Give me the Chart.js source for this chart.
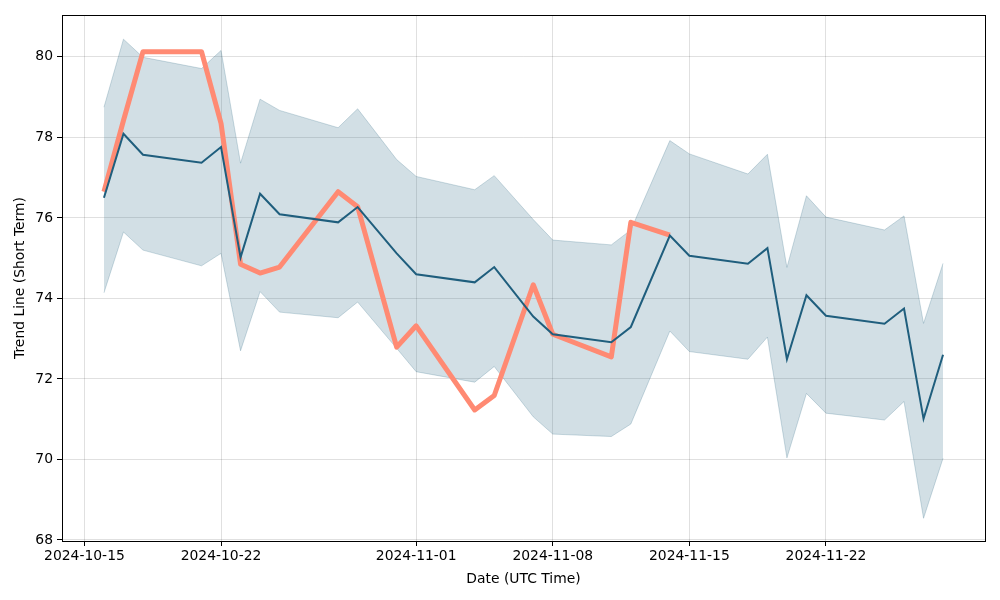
<!DOCTYPE html>
<html>
<head>
<meta charset="utf-8">
<script src="https://cdn.jsdelivr.net/npm/chart.js@4.4.1/dist/chart.umd.min.js"></script>
<style>
  html, body { margin: 0; padding: 0; background: #fff; }
  #wrap { width: 1000px; height: 600px; }
</style>
</head>
<body>
<div id="wrap"><canvas id="chart" width="1000" height="600"></canvas></div>
<script>
// dates (UTC) of the points
const dates = ['2024-10-16','2024-10-17','2024-10-18','2024-10-21','2024-10-22','2024-10-23','2024-10-24','2024-10-25','2024-10-28','2024-10-29','2024-10-31','2024-11-01','2024-11-04','2024-11-05','2024-11-07','2024-11-08','2024-11-11','2024-11-12','2024-11-14','2024-11-15','2024-11-18','2024-11-19','2024-11-20','2024-11-21','2024-11-22','2024-11-25','2024-11-26','2024-11-27','2024-11-28'];
// short term trend line
const trend = [76.50,78.09,77.57,77.37,77.76,75.02,76.60,76.09,75.89,76.27,75.12,74.60,74.40,74.78,73.55,73.11,72.91,73.29,75.56,75.06,74.86,75.25,72.49,74.08,73.57,73.37,73.75,71.01,72.60];
// band round the trend
const upper = [78.75,80.44,79.99,79.71,80.16,77.36,78.95,78.67,78.24,78.71,77.45,77.03,76.70,77.05,75.96,75.45,75.33,75.70,77.92,77.59,77.09,77.58,74.77,76.55,76.02,75.70,76.05,73.38,74.87];
const lower = [74.14,75.65,75.20,74.81,75.12,72.70,74.17,73.66,73.52,73.91,72.76,72.18,71.92,72.31,71.06,70.63,70.57,70.88,73.19,72.68,72.49,73.04,70.04,71.64,71.15,70.98,71.44,68.54,70.03];
// actual values (orange), stop after 11-14
const actual = [76.65,78.42,80.13,80.13,78.35,74.85,74.63,74.78,76.65,76.28,72.79,73.32,71.23,71.59,74.34,73.11,72.55,75.89,75.57,null,null,null,null,null,null,null,null,null,null];

const xTicks = ['2024-10-15','2024-10-22','2024-11-01','2024-11-08','2024-11-15','2024-11-22'];
const yTicks = [68,70,72,74,76,78,80];
const xMin = '2024-10-13T20:24:00Z';
const xMax = '2024-11-30T03:36:00Z';

const toMs = function(d) {
  return d.length > 10 ? Date.parse(d) : Date.parse(d + 'T00:00:00Z');
};
const pts = function(vals) {
  return dates.map((d, i) => ({x: toMs(d), y: vals[i]}));
};
const fmt = function(ms) {
  const d = new Date(ms);
  const p = n => n < 10 ? '0' + n : '' + n;
  return d.getUTCFullYear() + '-' + p(d.getUTCMonth() + 1) + '-' + p(d.getUTCDate());
};

const frame = {
  id: 'frame',
  afterDraw(chart) {
    const a = chart.chartArea, c = chart.ctx;
    c.save();
    c.strokeStyle = '#000';
    c.lineWidth = 1;
    c.strokeRect(Math.round(a.left) + 0.5, Math.round(a.top) + 0.5, Math.round(a.right - a.left), Math.round(a.bottom - a.top));
    c.restore();
  }
};

const font = {family: 'DejaVu Sans', size: 13.9};
const blue = 'rgb(31,94,125)';

new Chart(document.getElementById('chart').getContext('2d'), {
  type: 'line',
  data: {
    datasets: [
      {label: 'trend', data: pts(trend), borderColor: blue, borderWidth: 2, pointRadius: 0, fill: false, order: 0, tension: 0},
      {label: 'actual', data: pts(actual), borderColor: '#ff8a73', borderWidth: 5, pointRadius: 0, fill: false, order: 1, tension: 0, borderJoinStyle: 'round', spanGaps: false},
      {label: 'upper', data: pts(upper), borderColor: 'rgba(31,94,125,0.22)', backgroundColor: 'rgba(31,94,125,0.2)', borderWidth: 1, pointRadius: 0, fill: '+1', order: 2, tension: 0},
      {label: 'lower', data: pts(lower), borderColor: 'rgba(31,94,125,0.22)', borderWidth: 1, pointRadius: 0, fill: false, order: 3, tension: 0}
    ]
  },
  options: {
    responsive: false,
    animation: false,
    layout: {padding: {left: 0, right: 15, top: 15, bottom: 0}},
    plugins: {legend: {display: false}, tooltip: {enabled: false}},
    scales: {
      x: {
        type: 'linear',
        min: toMs(xMin),
        max: toMs(xMax),
        afterBuildTicks: s => { s.ticks = xTicks.map(t => ({value: toMs(t)})); },
        afterFit: s => { s.height = 59; },
        ticks: {font: font, color: '#000', padding: 2, maxRotation: 0, autoSkip: false, callback: v => fmt(v)},
        grid: {color: 'rgba(0,0,0,0.12)', tickColor: '#000', tickLength: 5},
        border: {display: false},
        title: {display: true, text: 'Date (UTC Time)', font: font, color: '#000', padding: {top: 4, bottom: 12}}
      },
      y: {
        min: 67.975,
        max: 81.04,
        afterBuildTicks: s => { s.ticks = yTicks.map(v => ({value: v})); },
        afterFit: s => { s.width = 62; },
        ticks: {font: font, color: '#000', padding: 4, callback: v => '' + v},
        grid: {color: 'rgba(0,0,0,0.12)', tickColor: '#000', tickLength: 5},
        border: {display: false},
        title: {display: true, text: 'Trend Line (Short Term)', font: font, color: '#000', padding: {top: 12, bottom: 4}}
      }
    }
  },
  plugins: [frame]
});
</script>
</body>
</html>
